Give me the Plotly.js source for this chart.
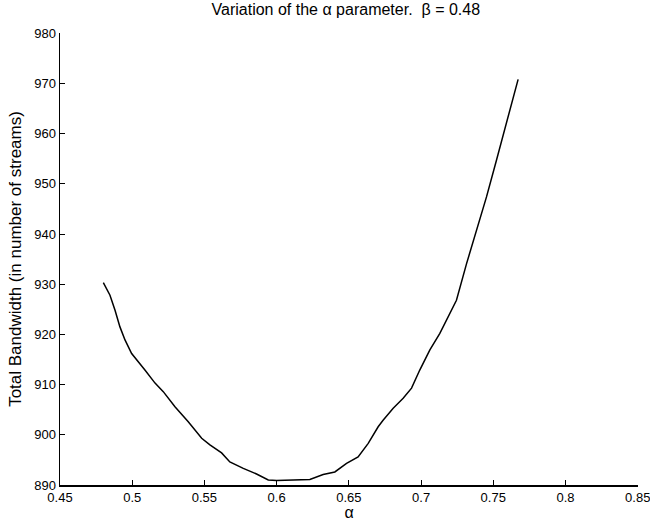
<!DOCTYPE html>
<html>
<head>
<meta charset="utf-8">
<script src="https://cdn.plot.ly/plotly-3.0.1.min.js"></script>
<style>html,body{margin:0;padding:0;background:#fff;}#chart{width:650px;height:521px;}</style>
</head>
<body>
<div id="chart"></div>
<script>
const alphaValues = [0.4800,0.4846,0.4881,0.4915,0.4950,0.4996,0.5088,0.5158,0.5215,0.5296,0.5388,0.5481,0.5538,0.5619,0.5676,0.5769,0.5861,0.5942,0.6000,0.6092,0.6230,0.6322,0.6403,0.6484,0.6564,0.6634,0.6703,0.6737,0.6807,0.6876,0.6934,0.6991,0.7061,0.7130,0.7199,0.7245,0.7315,0.7384,0.7453,0.7522,0.7591,0.7672];
const bandwidth = [930.3,927.8,924.8,921.5,918.9,916.2,912.9,910.3,908.6,905.6,902.6,899.3,898.0,896.4,894.6,893.3,892.2,891.0,890.9,891.0,891.1,892.1,892.6,894.3,895.6,898.3,901.6,902.9,905.3,907.3,909.3,912.9,916.9,920.2,924.2,926.8,934.1,940.8,947.4,954.7,962.0,970.8];
const xTicks = [0.45,0.5,0.55,0.6,0.65,0.7,0.75,0.8,0.85];
const xTickLabels = ['0.45','0.5','0.55','0.6','0.65','0.7','0.75','0.8','0.85'];
const yTicks = [890,900,910,920,930,940,950,960,970,980];

const font = 'Liberation Sans, Arial, Helvetica, sans-serif';
Plotly.newPlot('chart', [{
  x: alphaValues, y: bandwidth, type: 'scatter', mode: 'lines',
  line: {color: '#000', width: 1.5}, showlegend: false
}], {
  width: 650, height: 521,
  margin: {l: 60, r: 12, t: 33, b: 36},
  paper_bgcolor: '#fff', plot_bgcolor: '#fff',
  font: {family: font, color: '#000', size: 12},
  title: {text: 'Variation of the α parameter.  β = 0.48', font: {family: font, size: 16, color: '#000'},
          x: 0.532, xanchor: 'center', y: 0.981, yanchor: 'middle', yref: 'container'},
  xaxis: {range: [0.45, 0.8502], tickvals: xTicks, ticktext: xTickLabels, showgrid: false, zeroline: false,
          showline: true, linecolor: '#000', linewidth: 1.5, ticks: 'inside', ticklen: 5, tickcolor: '#000',
          ticklabeloverflow: 'allow',
          tickfont: {family: font, size: 13, color: '#000'},
          title: {text: 'α', font: {family: font, size: 16, color: '#000'}, standoff: 3}},
  yaxis: {range: [890, 980.05], tickvals: yTicks, showgrid: false, zeroline: false,
          showline: true, linecolor: '#000', linewidth: 1.5, ticks: 'inside', ticklen: 5, tickcolor: '#000',
          ticklabeloverflow: 'allow',
          tickfont: {family: font, size: 13, color: '#000'},
          title: {text: 'Total Bandwidth (in number of streams)', font: {family: font, size: 17, color: '#000'}, standoff: 8}}
}, {displayModeBar: false, staticPlot: true});
</script>
</body>
</html>
